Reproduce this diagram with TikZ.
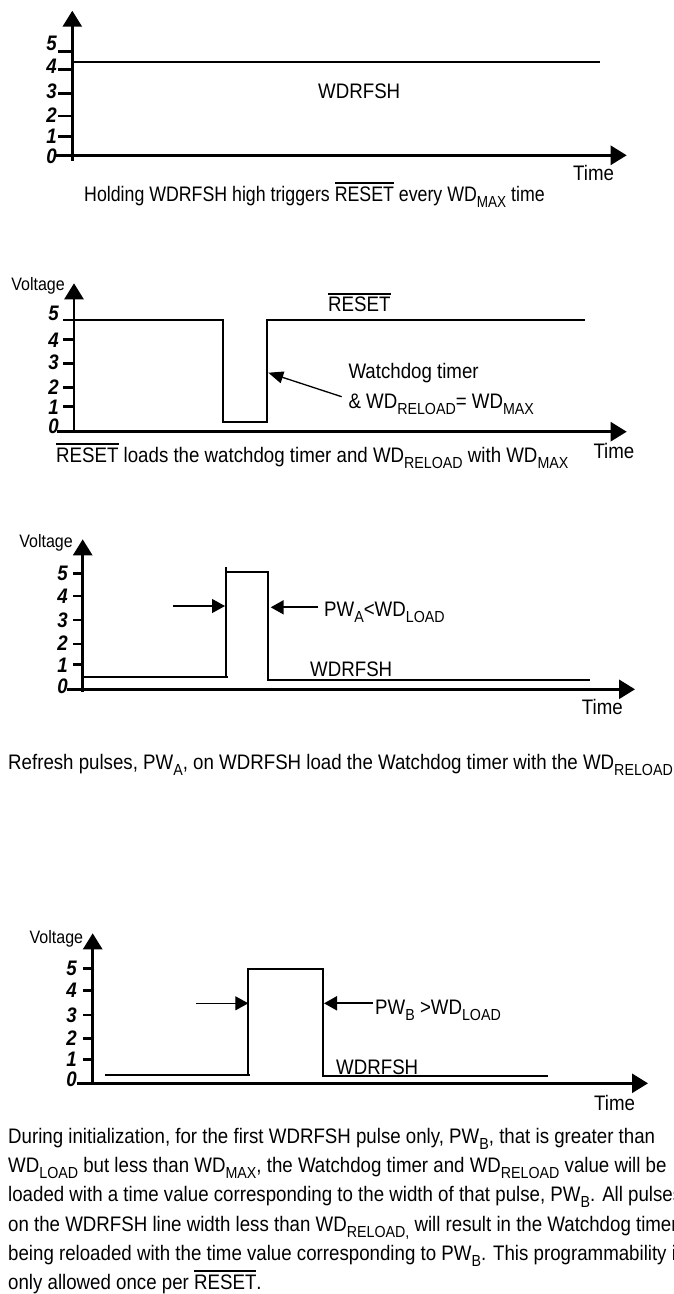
\documentclass[tikz,border=0pt]{standalone}
\usepackage{fontspec}
\setmainfont{Liberation Sans}[FakeStretch=0.89]
\usetikzlibrary{arrows.meta}
\newsavebox\ovbox
\newcommand\ovl[1]{\sbox\ovbox{#1}\rlap{\rule[\dimexpr\ht\ovbox+2.5pt\relax]{\wd\ovbox}{1.5pt}}\usebox\ovbox}
\newcommand\sbs[1]{\raisebox{-6pt}{\fontsize{16}{16}\selectfont #1}}
\begin{document}
\begin{tikzpicture}[x=1pt,y=-1pt,
  txt/.style={inner sep=0pt, anchor=base west, font=\fontsize{21}{25}\selectfont},
  vlab/.style={inner sep=0pt, anchor=base east, font=\fontsize{18}{20}\selectfont},
  tlab/.style={inner sep=0pt, anchor=east, font=\fontsize{21}{22}\selectfont\bfseries\itshape},
  axis/.style={line width=2.7pt, -{Triangle[length=16pt,width=19pt]}},
  sig/.style={line width=2pt},
  tickmark/.style={line width=2.5pt},
  pwthin/.style={line width=1.2pt, -{Triangle[length=13pt,width=14pt]}},
  pwthick/.style={line width=2pt, -{Triangle[length=13pt,width=14pt]}},
  callout/.style={line width=1.3pt, -{Triangle[length=15pt,width=12pt]}},
]
\useasboundingbox (0,0) rectangle (674,1294);
\clip (0,0) rectangle (674,1294);

% ---------------- Panel 1 ----------------
\coordinate (a1b) at (72.3,160.7); \coordinate (a1t) at (72.3,10.7);
\coordinate (x1l) at (56,155.3);   \coordinate (x1r) at (626.7,155.3);
\draw[axis] (a1b) -- (a1t);
\draw[axis] (x1l) -- (x1r);
\foreach \yy in {51.7,69.3,93.3,116,136.7}
  \draw[tickmark] (58.3,\yy) -- (72.3,\yy);
\node[tlab] (l15) at (57,43.3) {5};
\node[tlab] (l14) at (57,66.7) {4};
\node[tlab] (l13) at (57,91.7) {3};
\node[tlab] (l12) at (57,115) {2};
\node[tlab] (l11) at (57,136.7) {1};
\node[tlab] (l10) at (57,156.7) {0};
\coordinate (s1a) at (72.3,61.7); \coordinate (s1b) at (600,61.7);
\draw[sig] (s1a) -- (s1b);
\node[txt] (w1) at (318,98.3) {WDRFSH};
\node[txt] (t1) at (573,180) {Time};
\node[txt] (c1) at (84,201) {\scalebox{0.95}[1]{Holding WDRFSH high triggers \ovl{RESET} every WD\sbs{MAX} time}};

% ---------------- Panel 2 ----------------
\coordinate (a2b) at (74,433); \coordinate (a2t) at (74,283.3);
\coordinate (x2l) at (56.7,431.7); \coordinate (x2r) at (626.7,431.7);
\draw[axis] (a2b) -- (a2t);
\draw[axis] (x2l) -- (x2r);
\foreach \yy in {320,339.3,363.3,387.3,406.7}
  \draw[tickmark] (63,\yy) -- (74,\yy);
\node[tlab] (l25) at (59,313) {5};
\node[tlab] (l24) at (59,340) {4};
\node[tlab] (l23) at (59,362.7) {3};
\node[tlab] (l22) at (59,386.7) {2};
\node[tlab] (l21) at (59,407.3) {1};
\node[tlab] (l20) at (59,426) {0};
\node[vlab] (v2) at (65,290.5) {Voltage};
\draw[sig] (74,320.3) -- (223.3,320.3) -- (223.3,421.7) -- (266.7,421.7) -- (266.7,320.3) -- (585,320.3);
\coordinate (cs2) at (341.7,396.7); \coordinate (ce2) at (268.3,372.7);
\draw[callout] (cs2) -- (ce2);
\node[txt] (r2) at (328,311.7) {\ovl{RESET}};
\node[txt] (wt2) at (348.3,378) {Watchdog timer};
\node[txt] (wr2) at (348.3,408.3) {\& WD\sbs{RELOAD}= WD\sbs{MAX}};
\node[txt] (c2) at (56,462) {\ovl{RESET} loads the watchdog timer and WD\sbs{RELOAD} with WD\sbs{MAX}};
\node[txt] (t2) at (593.3,458) {Time};

% ---------------- Panel 3 ----------------
\coordinate (a3b) at (82.7,691.7); \coordinate (a3t) at (82.7,539.3);
\coordinate (x3l) at (66.7,689.3); \coordinate (x3r) at (635,689.3);
\draw[axis] (a3b) -- (a3t);
\draw[axis] (x3l) -- (x3r);
\foreach \yy in {573.3,596,620,644,664.3}
  \draw[tickmark] (73,\yy) -- (82.7,\yy);
\node[tlab] (l35) at (68,573) {5};
\node[tlab] (l34) at (68,596.7) {4};
\node[tlab] (l33) at (68,620) {3};
\node[tlab] (l32) at (68,643) {2};
\node[tlab] (l31) at (68,665) {1};
\node[tlab] (l30) at (68,686) {0};
\node[vlab] (v3) at (73,547) {Voltage};
\draw[sig] (82.7,677.3) -- (228.3,677.3);
\draw[sig] (226,566.5) -- (226,678.3);
\draw[sig] (226,571.7) -- (268.3,571.7) -- (268.3,680) -- (590,680);
\coordinate (pa1) at (173.3,606); \coordinate (pa2) at (225,606);
\coordinate (pa3) at (318.3,607.3); \coordinate (pa4) at (270.7,607.3);
\draw[pwthin] (pa1) -- (pa2);
\draw[pwthick] (pa3) -- (pa4);
\node[txt] (pw3) at (324,616.7) {PW\sbs{A}<WD\sbs{LOAD}};
\node[txt] (w3) at (310,676.7) {WDRFSH};
\node[txt] (t3) at (581.7,714) {Time};
\node[txt] (c3) at (8,769) {Refresh pulses, PW\sbs{A}, on WDRFSH load the Watchdog timer with the WD\sbs{RELOAD}};

% ---------------- Panel 4 ----------------
\coordinate (a4b) at (92.7,1085); \coordinate (a4t) at (92.7,933.3);
\coordinate (x4l) at (76.7,1083.3); \coordinate (x4r) at (648,1083.3);
\draw[axis] (a4b) -- (a4t);
\draw[axis] (x4l) -- (x4r);
\foreach \yy in {968.3,990.7,1015,1038.3,1059.3}
  \draw[tickmark] (83.3,\yy) -- (92.7,\yy);
\node[tlab] (l45) at (77,968) {5};
\node[tlab] (l44) at (77,990.7) {4};
\node[tlab] (l43) at (77,1015) {3};
\node[tlab] (l42) at (77,1038) {2};
\node[tlab] (l41) at (77,1059) {1};
\node[tlab] (l40) at (77,1079) {0};
\node[vlab] (v4) at (83.3,943) {Voltage};
\draw[sig] (105,1075) -- (250,1075);
\draw[sig] (248.3,1075) -- (248.3,969) -- (322.7,969) -- (322.7,1076) -- (548,1076);
\coordinate (pb1) at (196,1003.3); \coordinate (pb2) at (248.3,1003.3);
\coordinate (pb3) at (373,1003.3); \coordinate (pb4) at (324,1003.3);
\draw[pwthin] (pb1) -- (pb2);
\draw[pwthick] (pb3) -- (pb4);
\node[txt] (pw4) at (375,1014) {PW\sbs{B} >WD\sbs{LOAD}};
\node[txt] (w4) at (336,1074) {WDRFSH};
\node[txt] (t4) at (594,1110) {Time};
\node[txt] (p1) at (8,1143) {During initialization, for the first WDRFSH pulse only, PW\sbs{B}, that is greater than};
\node[txt] (p2) at (8,1172) {WD\sbs{LOAD} but less than WD\sbs{MAX}, the Watchdog timer and WD\sbs{RELOAD} value will be};
\node[txt] (p3) at (8,1201) {loaded with a time value corresponding to the width of that pulse, PW\sbs{B}. All pulses};
\node[txt] (p4) at (8,1231) {on the WDRFSH line width less than WD\sbs{RELOAD,} will result in the Watchdog timer};
\node[txt] (p5) at (8,1260) {being reloaded with the time value corresponding to PW\sbs{B}. This programmability is};
\node[txt] (p6) at (8,1289) {only allowed once per \ovl{RESET}.};
\end{tikzpicture}
\end{document}
